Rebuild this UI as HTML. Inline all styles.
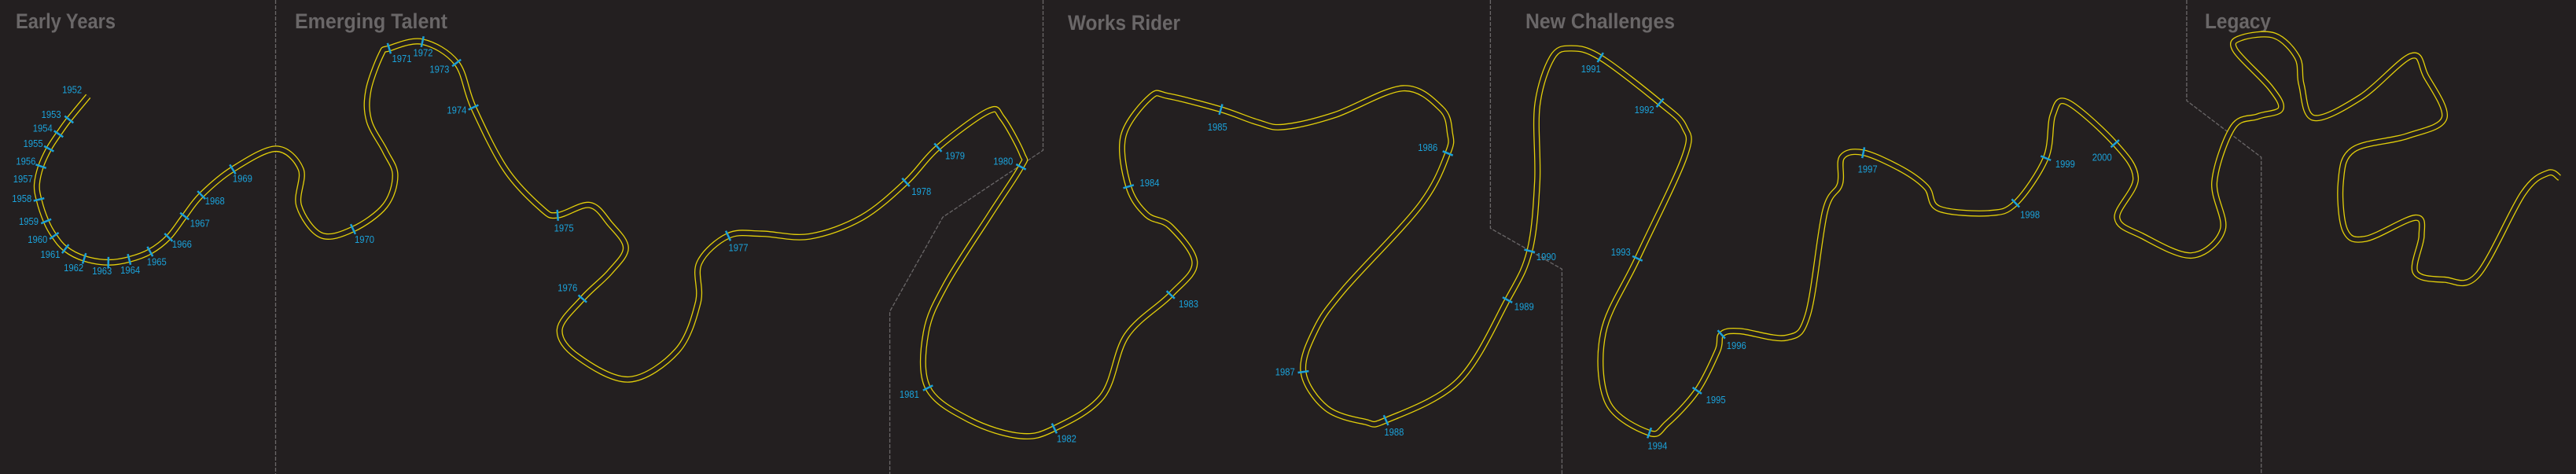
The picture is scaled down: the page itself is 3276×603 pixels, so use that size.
<!DOCTYPE html>
<html><head><meta charset="utf-8"><style>
html,body{margin:0;padding:0;background:#231f20;width:3276px;height:603px;overflow:hidden}
svg{display:block}
.t{font-family:"Liberation Sans Narrow","Liberation Sans",sans-serif;fill:#6a6768;font-size:27px;font-weight:bold}
.y{font-family:"Liberation Sans Narrow","Liberation Sans",sans-serif;fill:#1ba1d9;font-size:13px}
</style></head><body>
<svg id="s" width="3276" height="603" viewBox="0 0 3276 603" xmlns="http://www.w3.org/2000/svg">
<rect width="3276" height="603" fill="#231f20"/>
<g id="div" fill="none" stroke="#6a6768" stroke-width="1.3" stroke-dasharray="5 2"></g>
<text class="t" x="20" y="36" textLength="127" lengthAdjust="spacingAndGlyphs">Early Years</text>
<text class="t" x="375" y="36" textLength="194" lengthAdjust="spacingAndGlyphs">Emerging Talent</text>
<text class="t" x="1358" y="38" textLength="143" lengthAdjust="spacingAndGlyphs">Works Rider</text>
<text class="t" x="1940" y="36" textLength="190" lengthAdjust="spacingAndGlyphs">New Challenges</text>
<text class="t" x="2804" y="36" textLength="84" lengthAdjust="spacingAndGlyphs">Legacy</text>
<g id="road"></g>
<g id="ticks"></g>
<g id="labels"></g>
</svg>
<script>
var T={z1:[1.96,0],z2:[1.96,800],z3:[1.845,1600],z4:[1.898,2450]};
function cv(z,p){return [p[0]/T[z][0]+T[z][1],p[1]/2.6,p[2]];}
var raw={
z1:[[220,318],[172,395,1],[146,443,1],[122,492,1],[102,550,1],[92,610],[97,660,1],[115,732,1],[135,780,1],[163,823,1],[210,855,1],[270,868,1],[322,858,1],[374,832,1],[420,785,1],[460,715,1],[502,645,1],[580,560,1],[688,492],[750,560],[745,680],[800,778],[880,758,1],[960,680],[985,580],[960,500],[920,400],[918,300],[950,180],[970,160,1],[1053,138,1],[1138,208,1],[1180,355,1],[1260,560],[1350,690],[1390,712,1],[1470,678],[1520,740],[1560,820],[1520,900],[1452,988,1],[1395,1090],[1440,1180],[1568,1255]],
z2:[[120,1160],[172,1000],[175,870],[247,780,1],[330,773],[450,782],[580,720],[690,603,1],[770,488,1],[895,368],[930,390],[980,510],[977,552,1],[900,710],[790,940],[740,1100],[745,1283,1],[850,1390],[975,1442],[1060,1417,1],[1180,1310],[1240,1110],[1350,975,1],[1410,870],[1350,750],[1290,710],[1245,617,1],[1232,450],[1300,320],[1345,318],[1475,362,1],[1568,405]],
z3:[[60,420],[180,380],[340,292],[430,360],[450,440],[445,507,1],[380,680],[200,960],[135,1090],[106,1230,1],[160,1350],[250,1395],[300,1390,1],[470,1260],[585,992,1],[637,830,1],[655,600],[655,350],[690,190],[735,160],[803,190,1],[943,340,1],[1000,420],[1000,520],[890,855,1],[810,1100],[820,1330],[918,1432,1],[960,1400],[1030,1292,1],[1078,1160],[1087,1106,1],[1130,1095],[1240,1117],[1290,1040],[1330,700],[1365,610],[1370,520],[1420,505,1],[1510,560]],
z4:[[0,620],[30,690],[150,705],[215,672,1],[288,523,1],[305,380],[340,338],[455,475,1],[505,590],[460,720],[520,780],[640,845],[715,760],[695,600],[740,420],[800,385],[855,360],[830,290],[745,165],[760,125],[840,118],[895,190],[905,280],[935,390],[1050,320],[1170,185],[1205,250],[1250,390],[1160,450],[1030,495],[1000,600],[1010,760],[1060,790],[1180,720],[1195,780],[1180,900],[1250,925],[1330,910],[1440,640],[1500,572],[1528,588]]};
var P=[];["z1","z2","z3","z4"].forEach(function(z){raw[z].forEach(function(p){P.push(cv(z,p));});});
var d="M"+P[0][0].toFixed(1)+" "+P[0][1].toFixed(1);
for(var i=0;i<P.length-1;i++){var p0=P[Math.max(0,i-1)],p1=P[i],p2=P[i+1],p3=P[Math.min(P.length-1,i+2)];
var c1x=p1[0]+(p2[0]-p0[0])/6,c1y=p1[1]+(p2[1]-p0[1])/6,c2x=p2[0]-(p3[0]-p1[0])/6,c2y=p2[1]-(p3[1]-p1[1])/6;
d+=" C"+c1x.toFixed(1)+" "+c1y.toFixed(1)+" "+c2x.toFixed(1)+" "+c2y.toFixed(1)+" "+p2[0].toFixed(1)+" "+p2[1].toFixed(1);}
var NS="http://www.w3.org/2000/svg";
function el(n,a,par){var e=document.createElementNS(NS,n);for(var k in a)e.setAttribute(k,a[k]);document.getElementById(par).appendChild(e);return e;}
el("path",{d:d,fill:"none",stroke:"#e3cf0a","stroke-width":"8","stroke-linejoin":"round"},"road");
el("path",{d:d,fill:"none",stroke:"#231f20","stroke-width":"5.4","stroke-linejoin":"round"},"road");
for(var i=0;i<P.length;i++){if(!P[i][2])continue;var a=P[Math.max(0,i-1)],b=P[Math.min(P.length-1,i+1)];
var tx=b[0]-a[0],ty=b[1]-a[1],L=Math.sqrt(tx*tx+ty*ty);var nx=-ty/L*7,ny=tx/L*7;
el("line",{x1:P[i][0]-nx,y1:P[i][1]-ny,x2:P[i][0]+nx,y2:P[i][1]+ny,stroke:"#1ba1d9","stroke-width":"2.5"},"ticks");}
var labs={
z1:[["1952",155,308],["1953",103,390],["1954",82,435],["1955",58,486],["1956",40,545],["1957",33,603],["1958",30,668],["1959",47,743],["1960",69,803],["1961",101,853],["1962",159,897],["1963",230,907],["1964",300,905],["1965",366,877],["1966",429,819],["1967",474,750],["1968",511,676],["1969",580,602],["1970",884,803],["1971",977,205],["1972",1030,186],["1973",1071,241],["1974",1114,376],["1975",1381,766],["1976",1390,963]],
z2:[["1977",248,831],["1978",704,645],["1979",788,527],["1980",908,545],["1981",674,1315],["1982",1066,1463],["1983",1370,1016],["1984",1273,616],["1985",1442,432]],
z3:[["1986",375,499],["1987",40,1242],["1988",296,1441],["1989",601,1026],["1990",653,861],["1991",758,239],["1992",883,374],["1993",828,845],["1994",914,1486],["1995",1051,1334],["1996",1099,1154],["1997",1407,571]],
z4:[["1998",226,721],["1999",311,554],["2000",400,532]]};
for(var z in labs){labs[z].forEach(function(l){var c=cv(z,[l[1],l[2]]);var t=el("text",{x:c[0].toFixed(1),y:c[1].toFixed(1),"class":"y",textLength:"25",lengthAdjust:"spacingAndGlyphs"},"labels");t.textContent=l[0];});}
var divs=[["z1",[[687,0],[687,1568]]],["z2",[[1032,0],[1032,497],[782,718],[650,1030],[650,1568]]],["z3",[[545,0],[545,755],[713,890],[713,1568]]],["z4",[[628,0],[628,333],[808,520],[808,1568]]]];
divs.forEach(function(dv){var pts=dv[1].map(function(p){var c=cv(dv[0],p);return c[0].toFixed(1)+","+c[1].toFixed(1);}).join(" ");el("polyline",{points:pts},"div");});
</script>
</body></html>
